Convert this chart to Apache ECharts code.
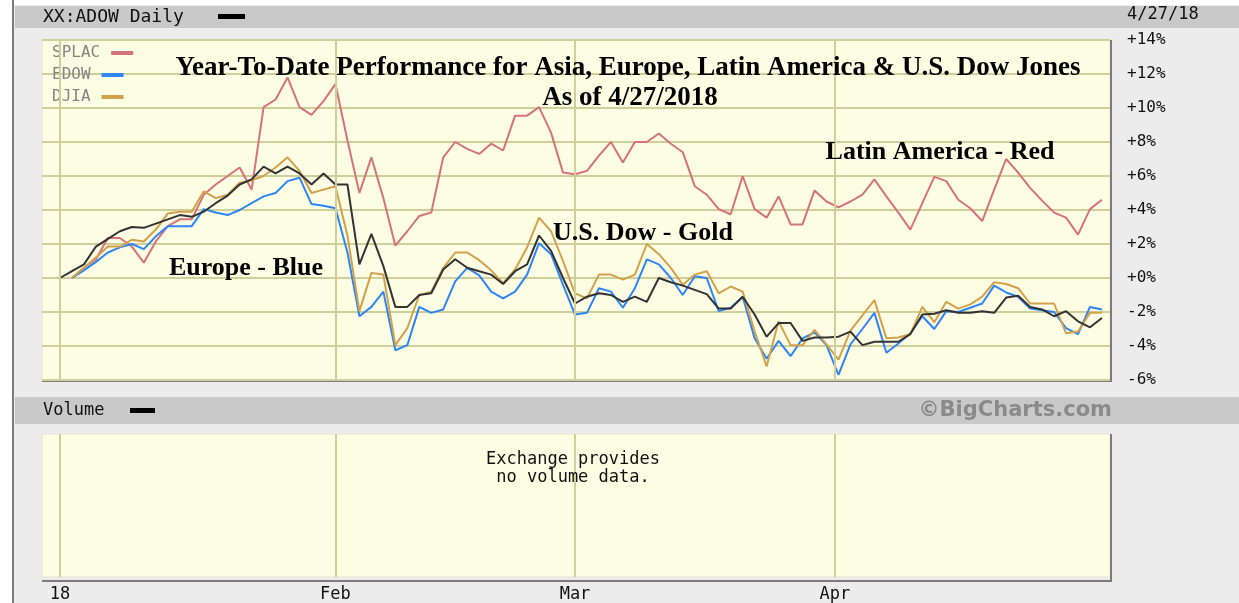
<!DOCTYPE html>
<html>
<head>
<meta charset="utf-8">
<title>XX:ADOW Daily</title>
<script src="https://cdn.jsdelivr.net/npm/echarts@6/dist/echarts.min.js"></script>
<style>
  html, body { margin: 0; padding: 0; background: #fff; }
  #chart { width: 1239px; height: 603px; }
</style>
</head>
<body>
<div id="chart"></div>
<script>
// year-to-date % change, one value per trading day (index 0 = start of 2018)
var adow = [0, 0.4, 0.8, 1.85, 2.3, 2.75, 3.0, 2.95, 3.2, 3.45,
  3.7, 3.6, 3.9, 4.4, 4.85, 5.5, 5.8, 6.55, 6.15, 6.55,
  6.15, 5.5, 6.15, 5.5, 5.5, 0.8, 2.6, 0.7, -1.7, -1.7,
  -1.0, -0.9, 0.5, 1.1, 0.6, 0.4, 0.2, -0.35, 0.4, 0.8,
  2.5, 1.6, 0.0, -1.5, -1.1, -0.9, -1.0, -1.4, -1.1, -1.4,
  0.0, -0.25, -0.45, -0.7, -0.95, -1.8, -1.8, -1.1, -2.15, -3.45,
  -2.65, -2.65, -3.7, -3.5, -3.5, -3.45, -3.15, -3.95, -3.75, -3.75,
  -3.75, -3.3, -2.15, -2.1, -1.9, -2.05, -2.05, -1.95, -2.05, -1.15,
  -1.05, -1.7, -1.85, -2.25, -1.95, -2.55, -2.9, -2.35];

var splac = [null, 0, 0.6, 1.1, 2.35, 2.35, 1.85, 0.9, 2.15, 3.05,
  3.45, 3.45, 4.9, 5.5, 6.0, 6.5, 5.2, 10.05, 10.5, 11.8,
  10.05, 9.6, 10.4, 11.4, 8.1, 5.0, 7.1, 4.7, 1.9, 2.75,
  3.65, 3.85, 7.1, 8.0, 7.6, 7.3, 7.9, 7.5, 9.55, 9.55,
  10.05, 8.55, 6.2, 6.1, 6.3, 7.2, 8.0, 6.8, 8.0, 8.0,
  8.5, 7.9, 7.4, 5.4, 4.9, 4.05, 3.75, 6.0, 4.05, 3.55,
  4.8, 3.15, 3.15, 5.15, 4.5, 4.15, 4.5, 4.9, 5.8, 4.8,
  3.85, 2.85, 4.4, 5.95, 5.7, 4.6, 4.1, 3.35, 5.2, 7.0,
  6.2, 5.3, 4.55, 3.85, 3.55, 2.55, 4.05, 4.6];

var edow = [null, 0, 0.45, 0.95, 1.5, 1.8, 2.0, 1.7, 2.45, 3.05,
  3.05, 3.05, 4.05, 3.85, 3.7, 4.0, 4.4, 4.8, 5.0, 5.7,
  5.9, 4.35, 4.25, 4.1, 1.5, -2.25, -1.7, -0.8, -4.25, -3.95,
  -1.7, -2.05, -1.85, -0.2, 0.6, 0.15, -0.8, -1.2, -0.8, 0.2,
  2.05, 1.4, -0.4, -2.15, -2.05, -0.6, -0.8, -1.75, -0.6, 1.1,
  0.8, 0.0, -1.0, 0.1, 0.0, -1.95, -1.75, -1.1, -3.55, -4.75,
  -3.7, -4.6, -3.55, -3.2, -3.95, -5.7, -3.9, -3.0, -2.05, -4.4,
  -3.85, -3.25, -2.25, -3.0, -1.95, -2.0, -1.75, -1.5, -0.45, -0.85,
  -1.1, -1.8, -1.9, -2.0, -2.95, -3.3, -1.7, -1.85];

var djia = [null, 0, 0.6, 1.2, 1.85, 1.85, 2.25, 2.15, 2.85, 3.8,
  3.9, 3.9, 5.1, 4.7, 4.9, 5.6, 5.75, 6.0, 6.5, 7.1,
  6.3, 5.0, 5.2, 5.4, 2.5, -1.95, 0.3, 0.2, -3.95, -2.95,
  -1.0, -0.8, 0.6, 1.5, 1.5, 1.05, 0.45, -0.3, 0.5, 1.8,
  3.55, 2.75, 1.0, -0.9, -1.2, 0.2, 0.2, -0.1, 0.2, 2.0,
  1.4, 0.6, -0.4, 0.2, 0.4, -0.9, -0.5, -0.8, -3.15, -5.2,
  -2.55, -3.95, -3.95, -3.05, -3.9, -4.8, -3.1, -2.2, -1.3, -3.55,
  -3.5, -3.3, -1.7, -2.6, -1.4, -1.8, -1.55, -1.1, -0.25, -0.35,
  -0.6, -1.5, -1.5, -1.5, -3.25, -3.15, -2.05, -2.05];

// month boundaries on the day axis and their labels
var monthTicks = [0, 23, 43, 64.7];
var monthLabels = ['18', 'Feb', 'Mar', 'Apr'];

var mono = '"DejaVu Sans Mono", monospace';
var serif = '"Liberation Serif", "Times New Roman", serif';
var gridColor = '#cfcf9b';
var paneBg = '#fdfde4';

function pairs(arr) {
  return arr.map(function (v, i) { return [i, v]; });
}

function txt(x, y, text, font, fill, align) {
  return {
    type: 'text', x: x, y: y, z: 10,
    style: {
      text: text, font: font, fill: fill || '#000',
      textAlign: align || 'left', align: align || 'left',
      textVerticalAlign: 'middle', verticalAlign: 'middle'
    }
  };
}

function box(x, y, w, h, fill) {
  return { type: 'rect', shape: { x: x, y: y, width: w, height: h }, style: { fill: fill } };
}

function edge(x1, y1, x2, y2) {
  return { type: 'line', shape: { x1: x1, y1: y1, x2: x2, y2: y2 }, style: { stroke: '#7c7c7c', lineWidth: 2 } };
}

function legendItem(name, top) {
  return {
    data: [name],
    left: 52,
    top: top,
    padding: 0,
    align: 'right',
    icon: 'rect',
    itemWidth: 22,
    itemHeight: 4,
    selectedMode: false,
    textStyle: { color: '#858585', fontFamily: mono, fontSize: 16, padding: [0, 6, 0, 0] }
  };
}

var monthLines = {
  silent: true,
  symbol: ['none', 'none'],
  label: { show: false },
  lineStyle: { color: gridColor, width: 2, type: 'solid' },
  data: monthTicks.map(function (v) { return { xAxis: v }; })
};

var chart = echarts.init(document.getElementById('chart'));

chart.setOption({
  animation: false,
  backgroundColor: '#ececec',
  graphic: [
    box(0, 0, 12, 603, '#ffffff'),
    box(0, 0, 1239, 5, '#ffffff'),
    edge(13, 0, 13, 603),
    box(15, 6, 1224, 22, '#c9c9c9'),
    txt(43, 17, 'XX:ADOW Daily', '18px ' + mono, '#111'),
    box(218, 14, 27, 5, '#000'),
    txt(1127, 15, '4/27/18', '17px ' + mono, '#111'),
    box(15, 397, 1224, 27, '#c9c9c9'),
    txt(43, 411, 'Volume', '17px ' + mono, '#111'),
    box(130, 408, 25, 5, '#000'),
    txt(1112, 411, '\u00a9BigCharts.com', 'bold 21px "DejaVu Sans", sans-serif', '#8a8a8a', 'right'),
    edge(42, 381, 1112, 381),
    edge(1111, 40, 1111, 381),
    edge(42, 581, 1112, 581),
    edge(1111, 434, 1111, 581),
    txt(628, 68, 'Year-To-Date Performance for Asia, Europe, Latin America & U.S. Dow Jones', 'bold 27px ' + serif, '#000', 'center'),
    txt(630, 98, 'As of 4/27/2018', 'bold 27px ' + serif, '#000', 'center'),
    txt(246, 268, 'Europe - Blue', 'bold 26px ' + serif, '#000', 'center'),
    txt(643, 233, 'U.S. Dow - Gold', 'bold 26px ' + serif, '#000', 'center'),
    txt(940, 152, 'Latin America - Red', 'bold 26px ' + serif, '#000', 'center'),
    txt(573, 460, 'Exchange provides', '17px ' + mono, '#111', 'center'),
    txt(573, 478, 'no volume data.', '17px ' + mono, '#111', 'center')
  ],
  legend: [
    legendItem('SPLAC', 45),
    legendItem('EDOW', 67),
    legendItem('DJIA', 89)
  ],
  grid: [
    { left: 42, top: 40, width: 1068, height: 340, show: true, backgroundColor: paneBg, borderColor: '#e4e4d4', borderWidth: 1 },
    { left: 42, top: 434, width: 1068, height: 146, show: true, backgroundColor: paneBg, borderColor: '#e4e4d4', borderWidth: 1 }
  ],
  xAxis: [
    {
      type: 'value', gridIndex: 0, min: -1.503, max: 87.67,
      axisLine: { show: false }, axisTick: { show: false },
      axisLabel: { show: false }, splitLine: { show: false }
    },
    {
      type: 'value', gridIndex: 1, min: -1.503, max: 87.67,
      axisLine: { show: false }, axisTick: { show: false }, splitLine: { show: false },
      axisLabel: {
        customValues: monthTicks,
        margin: 9,
        color: '#111',
        fontFamily: mono,
        fontSize: 17,
        formatter: function (v) {
          var i = monthTicks.indexOf(v);
          return i < 0 ? '' : monthLabels[i];
        }
      }
    }
  ],
  yAxis: [
    {
      type: 'value', gridIndex: 0, position: 'right',
      min: -6, max: 14, interval: 2,
      axisLine: { show: false }, axisTick: { show: false },
      axisLabel: {
        margin: 17, color: '#111', fontFamily: mono, fontSize: 16,
        formatter: function (v) { return (v < 0 ? '-' : '+') + Math.abs(v) + '%'; }
      },
      splitLine: { lineStyle: { color: gridColor, width: 2 } }
    },
    { type: 'value', gridIndex: 1, min: 0, max: 1, show: false }
  ],
  series: [
    { name: 'months', type: 'line', xAxisIndex: 0, yAxisIndex: 0, data: [], z: 1, markLine: monthLines },
    { name: 'volume months', type: 'line', xAxisIndex: 1, yAxisIndex: 1, data: [], z: 1, markLine: monthLines },
    {
      name: 'SPLAC', type: 'line', xAxisIndex: 0, yAxisIndex: 0, z: 3,
      data: pairs(splac), symbol: 'none',
      itemStyle: { color: '#d6737a' }, lineStyle: { color: '#d6737a', width: 2 }
    },
    {
      name: 'EDOW', type: 'line', xAxisIndex: 0, yAxisIndex: 0, z: 3,
      data: pairs(edow), symbol: 'none',
      itemStyle: { color: '#2e86f5' }, lineStyle: { color: '#2e86f5', width: 2 }
    },
    {
      name: 'DJIA', type: 'line', xAxisIndex: 0, yAxisIndex: 0, z: 3,
      data: pairs(djia), symbol: 'none',
      itemStyle: { color: '#d3a14b' }, lineStyle: { color: '#d3a14b', width: 2 }
    },
    {
      name: 'XX:ADOW', type: 'line', xAxisIndex: 0, yAxisIndex: 0, z: 3,
      data: pairs(adow), symbol: 'none',
      itemStyle: { color: '#333333' }, lineStyle: { color: '#333333', width: 2 }
    }
  ]
});
</script>
</body>
</html>
